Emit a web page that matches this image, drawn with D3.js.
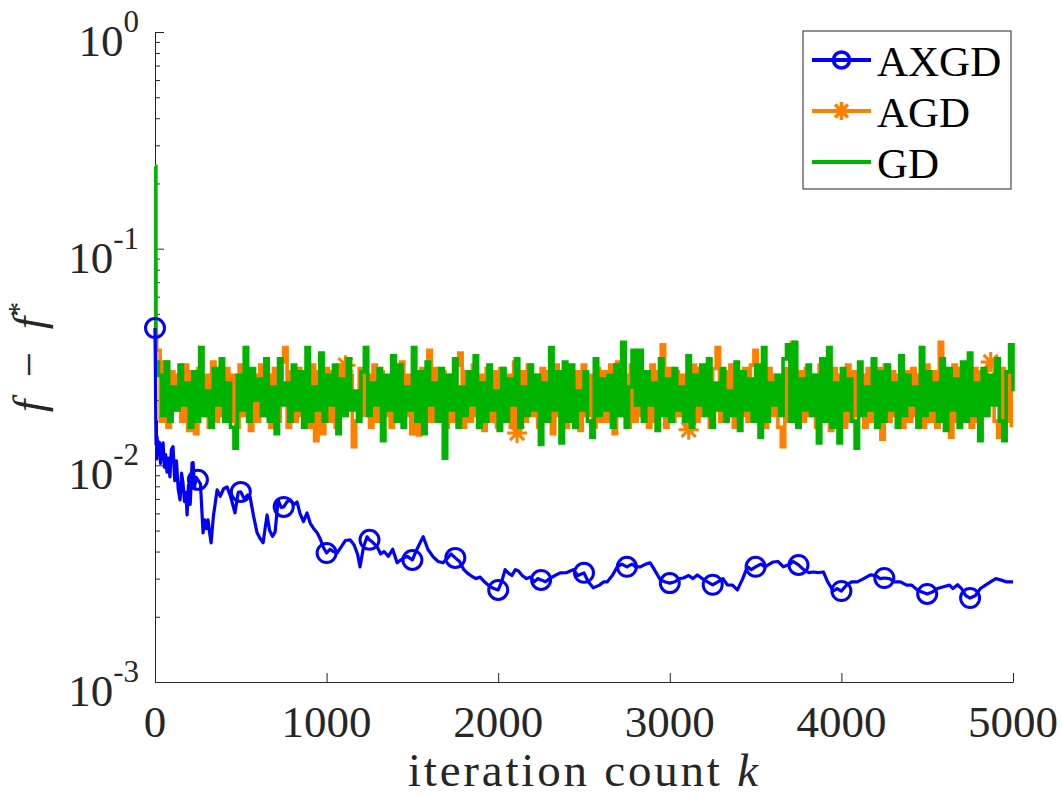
<!DOCTYPE html>
<html>
<head>
<meta charset="utf-8">
<script src="https://cdn.jsdelivr.net/npm/d3@7"></script>
<style>
  body { margin: 0; background: #fff; }
  svg { display: block; }
  svg text { font-family: "Liberation Serif", "DejaVu Serif", "Times New Roman", serif; }
</style>
</head>
<body>
<div id="chart"></div>
<script>
// ---- values ----
const seriesNames = ['AXGD', 'AGD', 'GD'];
const xTicks = [0, 1000, 2000, 3000, 4000, 5000];
const yDecades = [0, -1, -2, -3];

// AXGD (blue): iteration k and f - f*
const axgdIter = [
  0, 2, 4, 6, 8, 10, 12, 18, 25, 32, 40, 47, 55, 62, 70, 78, 87, 95, 105, 115,
  125, 135, 146, 155, 163, 172, 180, 187, 195, 205, 216, 222, 230, 240, 250, 265, 280, 290, 300, 309,
  318, 327, 340, 362, 380, 400, 420, 440, 466, 485, 500, 520, 540, 554, 575, 595, 612, 630, 643, 653,
  668, 685, 700, 710, 717, 735, 750, 770, 790, 810, 828, 845, 865, 886, 905, 925, 945, 962, 980, 1000,
  1020, 1040, 1061, 1085, 1110, 1137, 1160, 1180, 1195, 1215, 1236, 1250, 1270, 1295, 1315, 1335, 1360, 1385, 1411, 1440,
  1470, 1500, 1520, 1545, 1563, 1590, 1621, 1650, 1679, 1700, 1725, 1750, 1775, 1800, 1819, 1840, 1870, 1895, 1920, 1953,
  1975, 2000, 2020, 2040, 2058, 2080, 2100, 2117, 2140, 2165, 2187, 2210, 2230, 2250, 2275, 2300, 2330, 2362, 2400, 2437,
  2465, 2500, 2525, 2554, 2590, 2615, 2636, 2665, 2694, 2720, 2750, 2780, 2800, 2828, 2860, 2886, 2910, 2945, 2970, 3000,
  3030, 3055, 3079, 3110, 3135, 3160, 3190, 3220, 3250, 3280, 3310, 3335, 3365, 3394, 3425, 3452, 3475, 3500, 3530, 3555,
  3580, 3603, 3630, 3662, 3700, 3720, 3750, 3780, 3810, 3837, 3865, 3895, 3920, 3953, 3975, 4000, 4030, 4060, 4093, 4130,
  4169, 4200, 4225, 4250, 4280, 4310, 4344, 4380, 4410, 4443, 4470, 4500, 4530, 4560, 4595, 4630, 4650, 4677, 4700, 4725,
  4750, 4780, 4810, 4840, 4869, 4900, 4927, 4960, 4985, 5000
];
const axgdVal = [
  0.043, 0.030, 0.018, 0.0125, 0.016, 0.0107, 0.0135, 0.0115, 0.0128, 0.0102, 0.0122, 0.0127, 0.0098, 0.0112, 0.0093, 0.0108, 0.00884, 0.0118, 0.0122, 0.0085,
  0.0105, 0.0078, 0.00692, 0.0092, 0.0083, 0.0068, 0.0075, 0.0059, 0.0081, 0.0066, 0.01026, 0.0103, 0.0079, 0.0088, 0.00857, 0.0082, 0.00488, 0.0056, 0.0051, 0.0056,
  0.0049, 0.00439, 0.0058, 0.0077, 0.0072, 0.0078, 0.00794, 0.0072, 0.00603, 0.0075, 0.00754, 0.0070, 0.0073, 0.00715, 0.0058, 0.00488, 0.0046, 0.00439, 0.0052, 0.0059,
  0.0050, 0.0047, 0.00493, 0.0060, 0.00692, 0.0064, 0.00643, 0.0068, 0.0069, 0.0066, 0.00678, 0.0060, 0.0055, 0.00603, 0.0054, 0.0051, 0.00488, 0.0046, 0.0042, 0.00394,
  0.0041, 0.0040, 0.00394, 0.0042, 0.0045, 0.00453, 0.0043, 0.0039, 0.0034, 0.0042, 0.00468, 0.00453, 0.0044, 0.0042, 0.0039, 0.0040, 0.0038, 0.0041, 0.00355, 0.0037,
  0.0038, 0.00366, 0.0040, 0.0044, 0.00468, 0.0041, 0.00378, 0.0036, 0.00355, 0.0037, 0.0039, 0.00374, 0.0036, 0.0033, 0.00319, 0.0031, 0.0030, 0.00305, 0.0029, 0.00275,
  0.0027, 0.00266, 0.0029, 0.0033, 0.00319, 0.0031, 0.0033, 0.00326, 0.0031, 0.0030, 0.00305, 0.0029, 0.0030, 0.00296, 0.0029, 0.0030, 0.0031, 0.00319, 0.0032, 0.0033,
  0.0031, 0.00319, 0.0029, 0.00272, 0.0028, 0.0029, 0.0029, 0.0031, 0.0034, 0.0035, 0.0034, 0.0035, 0.0034, 0.0034, 0.0035, 0.00355, 0.0033, 0.00296, 0.0029, 0.00286,
  0.0029, 0.0030, 0.00302, 0.0031, 0.0030, 0.00312, 0.0030, 0.0029, 0.00281, 0.0029, 0.0030, 0.00281, 0.0028, 0.00266, 0.0030, 0.0034, 0.0033, 0.0034, 0.0035, 0.0034,
  0.0035, 0.00358, 0.0036, 0.0034, 0.0035, 0.0036, 0.00347, 0.0033, 0.0032, 0.00322, 0.0032, 0.00322, 0.0029, 0.00263, 0.0027, 0.00263, 0.0028, 0.0029, 0.0029, 0.0030,
  0.00312, 0.0031, 0.0030, 0.00302, 0.0030, 0.0029, 0.0029, 0.0028, 0.0028, 0.00266, 0.0026, 0.00255, 0.0026, 0.0027, 0.00275, 0.0028, 0.0027, 0.00281, 0.0027, 0.0025,
  0.00244, 0.0025, 0.0027, 0.0028, 0.0029, 0.0030, 0.00296, 0.0029, 0.0029, 0.0029
];
const axgdMarkEvery = 250;

// AGD (orange): f - f* in units of 1e-3, two start samples then every 20 iterations
const agdIter = [0, 4].concat(d3.range(10, 5000, 20));
const agdVal = [
  85, 40,
  34, 16, 30, 15, 27, 18, 26, 16, 29, 14.5,
  27, 14, 28, 17, 26, 15, 30, 16, 25, 17,
  28, 16, 26, 15, 29, 17, 27, 14.5, 26, 16,
  29, 17, 26, 15, 28, 16, 30, 35, 15, 27,
  16, 28, 17, 26, 15, 29, 13, 27, 14, 28,
  16, 27, 15, 29, 17, 29, 26, 12.2, 16, 28,
  17, 26, 15, 29, 16, 27, 17, 25, 15, 28,
  16, 30, 17, 26, 14, 27, 13.8, 28, 16, 34,
  16, 28, 17, 27, 15, 26, 16, 29, 33, 15,
  27, 16, 29, 17, 26, 14.5, 28, 16, 27, 15,
  28, 17, 26, 15, 30, 14.1, 27, 16, 29, 17,
  26, 15, 28, 16, 27, 14, 29, 17, 26, 15,
  28, 16, 27, 14.5, 29, 17, 26, 15, 28, 16,
  27, 16, 29, 14, 30, 17, 26, 15, 29, 16,
  28, 17, 26, 15, 29, 16, 27, 36, 15, 28,
  16, 27, 17, 26, 15, 14.6, 29, 16, 28, 17,
  26, 15, 28, 35, 16, 27, 17, 29, 15, 26,
  17, 28, 16, 29, 34, 16, 27, 15, 28, 17,
  26, 15, 12.2, 28, 16, 37, 17, 27, 16, 28,
  17, 26, 15, 29, 16, 27, 14.5, 28, 17, 26,
  15, 29, 16, 27, 17, 26, 15, 28, 16, 27,
  28, 13.2, 29, 16, 27, 17, 26, 15, 27, 16,
  28, 17, 26, 15, 29, 16, 27, 15, 37, 16,
  27, 13.5, 29, 16, 28, 17, 26, 15, 28, 16,
  27, 17, 29, 30, 16, 13.5, 28, 16, 27, 15
];
const agdMarkIter = [1110, 2110, 3110, 4870];

// GD (green): f - f* in units of 1e-3, two start samples then every 20 iterations
const gdIter = [0, 5].concat(d3.range(20, 5001, 20));
const gdVal = [
  240, 30,
  26, 17, 30, 16, 23, 18, 29, 19, 24, 15,
  27, 16, 35, 17, 22, 15, 28, 19, 31, 16,
  24, 15, 12, 26, 18, 35, 16, 28, 20, 25,
  17, 31, 16, 23, 14, 31, 19, 24, 16, 29,
  18, 27, 15, 35, 16, 23, 18, 33, 16, 26,
  19, 29, 14, 25, 17, 31, 18, 22, 16, 27,
  35, 17, 24, 19, 28, 13, 26, 18, 32, 16,
  29, 15, 23, 18, 35, 16, 27, 14, 30, 19,
  24, 16, 28, 10.8, 26, 18, 31, 15, 23, 17,
  27, 19, 32, 15, 24, 16, 29, 18, 22, 14.5,
  28, 16, 25, 19, 31, 15, 23, 17, 29, 18,
  26, 12.5, 24, 16, 35, 18, 27, 12.7, 30, 16,
  29, 15, 22, 18, 27, 16, 13.5, 31, 17, 25,
  18, 26, 15, 29, 17, 37, 15, 23, 34, 19,
  34, 16, 27, 19, 24, 14.5, 31, 17, 25, 16,
  28, 18, 23, 16, 32, 15, 26, 19, 29, 17,
  31, 15, 24, 18, 28, 16, 22, 17, 30, 14.5,
  27, 18, 25, 16, 29, 13.5, 35, 16, 24, 19,
  26, 17, 31, 36, 16, 37, 15, 25, 18, 29,
  17, 26, 12.7, 31, 16, 35, 15, 24, 12.7, 28,
  18, 25, 16, 12, 30, 17, 23, 18, 31, 15,
  27, 16, 29, 18, 24, 15, 32, 17, 26, 19,
  23, 15, 35, 17, 27, 18, 24, 16, 31, 14.5,
  28, 18, 25, 15, 30, 16, 33, 17, 24, 13,
  28, 17, 26, 19, 31, 16, 13, 27, 36, 22
];

// ---- drawing ----
const svgW = 1062, svgH = 795;
const margin = { top: 32, right: 49, bottom: 113, left: 155 };
const axisColor = '#262626';
const serif = '"Liberation Serif", "DejaVu Serif", "Times New Roman", serif';
const colors = { AXGD: '#0000ff', AGD: '#ff8000', GD: '#00b300' };

const chart = d3.select('#chart').append('svg')
  .attr('width', svgW)
  .attr('height', svgH)
  .attr('font-family', serif);

const x = d3.scaleLinear().domain([0, 5000]).range([margin.left, svgW - margin.right]);
const y = d3.scaleLog().domain([1e-3, 1]).range([svgH - margin.bottom, margin.top]);

// series as [k, value] pairs
const axgd = d3.zip(axgdIter, axgdVal);
const agd = d3.zip(agdIter, agdVal.map(v => v / 1000));
const gd = d3.zip(gdIter, gdVal.map(v => v / 1000));

const line = d3.line().x(d => x(d[0])).y(d => y(d[1]));
// the dense noisy runs look like vertical bars in the reference, so step them
const stepLine = d3.line().x(d => x(d[0])).y(d => y(d[1])).curve(d3.curveStepAfter);

// star marker like matlab '*'
function starPath(s) {
  const d = s * 0.71;
  return `M${-s},0L${s},0M0,${-s}L0,${s}M${-d},${-d}L${d},${d}M${-d},${d}L${d},${-d}`;
}

// x axis, ticks pointing inward
chart.append('g')
  .attr('transform', `translate(0,${svgH - margin.bottom})`)
  .call(d3.axisBottom(x).tickValues(xTicks).tickSizeInner(-9).tickSizeOuter(0).tickFormat(''));
xTicks.forEach(t => {
  chart.append('text')
    .attr('x', x(t)).attr('y', 737)
    .attr('text-anchor', 'middle')
    .attr('font-family', serif)
    .style('font-size', '45px').attr('fill', axisColor)
    .text(t);
});

// y axis, major + minor ticks inward
const yMajor = yDecades.map(p => Math.pow(10, p));
const yMinor = [];
[-3, -2, -1].forEach(p => { for (let m = 2; m <= 9; m++) yMinor.push(m * Math.pow(10, p)); });
chart.append('g')
  .attr('transform', `translate(${margin.left},0)`)
  .call(d3.axisLeft(y).tickValues(yMajor).tickSizeInner(-9).tickSizeOuter(0).tickFormat(''));
chart.append('g')
  .attr('transform', `translate(${margin.left},0)`)
  .call(d3.axisLeft(y).tickValues(yMinor).tickSizeInner(-5).tickSizeOuter(0).tickFormat(''))
  .call(g => g.select('.domain').remove());
chart.selectAll('.domain, .tick line').attr('stroke', axisColor).attr('stroke-width', 1);

yDecades.forEach(p => {
  const t = chart.append('text')
    .attr('x', 139).attr('y', y(Math.pow(10, p)) + 24)
    .attr('text-anchor', 'end')
    .attr('font-family', serif)
    .attr('fill', axisColor)
    .style('font-size', '45px');
  t.append('tspan').text('10');
  t.append('tspan').attr('dy', -24).style('font-size', '31px').text(p === 0 ? '0' : '-' + Math.abs(p));
});

// series lines: AGD, then GD, then AXGD on top
const plot = chart.append('g');
plot.append('path').datum(agd)
  .attr('d', stepLine).attr('fill', 'none')
  .attr('stroke', colors.AGD).attr('stroke-width', 3.6);
plot.selectAll('.agdMark')
  .data(agd.filter(d => agdMarkIter.includes(d[0])))
  .join('path').attr('class', 'agdMark')
  .attr('transform', d => `translate(${x(d[0])},${y(d[1])})`)
  .attr('d', starPath(10)).attr('fill', 'none')
  .attr('stroke', colors.AGD).attr('stroke-width', 3);
plot.append('path').datum(gd)
  .attr('d', stepLine).attr('fill', 'none')
  .attr('stroke', colors.GD).attr('stroke-width', 3.6);
plot.append('path').datum(axgd)
  .attr('d', line).attr('fill', 'none')
  .attr('stroke', colors.AXGD).attr('stroke-width', 3.2).attr('stroke-linejoin', 'round');
plot.selectAll('.axgdMark')
  .data(axgd.filter(d => d[0] % axgdMarkEvery === 0 && d[0] < 5000))
  .join('circle').attr('class', 'axgdMark')
  .attr('cx', d => x(d[0])).attr('cy', d => y(d[1]))
  .attr('r', 9.5).attr('fill', 'none')
  .attr('stroke', colors.AXGD).attr('stroke-width', 3);

// axis labels
chart.append('text')
  .attr('x', 583).attr('y', 786)
  .attr('text-anchor', 'middle')
  .attr('textLength', 350).attr('lengthAdjust', 'spacing')
  .attr('font-family', serif)
  .attr('fill', axisColor)
  .style('font-size', '47px')
  .call(t => {
    t.append('tspan').text('iteration count ');
    t.append('tspan').style('font-style', 'italic').text('k');
  });

const yLab = chart.append('text')
  .attr('transform', `translate(44,${(margin.top + svgH - margin.bottom) / 2}) rotate(-90)`)
  .attr('text-anchor', 'middle')
  .attr('font-family', serif)
  .attr('fill', axisColor)
  .style('font-size', '45px');
yLab.append('tspan').style('font-style', 'italic').text('f');
yLab.append('tspan').text('\u2002\u2212\u2002');
yLab.append('tspan').style('font-style', 'italic').text('f');
yLab.append('tspan').attr('dy', -16).style('font-size', '30px').text('*');

// legend
const legend = chart.append('g');
legend.append('rect')
  .attr('x', 803).attr('y', 31).attr('width', 208).attr('height', 158)
  .attr('fill', '#fff').attr('stroke', axisColor).attr('stroke-width', 1);
seriesNames.forEach((name, i) => {
  const ly = 60 + i * 51;
  const row = legend.append('g');
  row.append('line')
    .attr('x1', 812).attr('x2', 871).attr('y1', ly).attr('y2', ly)
    .attr('stroke', colors[name]).attr('stroke-width', 4);
  if (name === 'AXGD') {
    row.append('circle').attr('cx', 841.5).attr('cy', ly).attr('r', 8)
      .attr('fill', 'none').attr('stroke', colors[name]).attr('stroke-width', 3.5);
  } else if (name === 'AGD') {
    row.append('path').attr('transform', `translate(841.5,${ly})`)
      .attr('d', starPath(9)).attr('fill', 'none')
      .attr('stroke', colors[name]).attr('stroke-width', 3.5);
  }
  row.append('text')
    .attr('x', 877).attr('y', ly + 16)
    .attr('font-family', serif)
    .style('font-size', '43px').attr('fill', '#000')
    .text(name);
});
</script>
</body>
</html>
